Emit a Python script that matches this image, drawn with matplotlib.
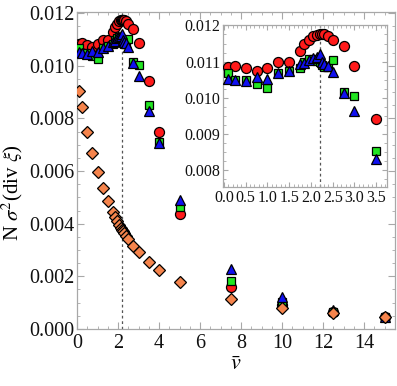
import matplotlib
matplotlib.use("Agg")
import matplotlib.pyplot as plt
from matplotlib.ticker import MultipleLocator, FormatStrFormatter

plt.rcParams['font.family'] = ['Liberation Serif', 'DejaVu Serif']
plt.rcParams['mathtext.fontset'] = 'stix'

# ---------------- data ----------------
x_vals = [0.1, 0.25, 0.5, 0.75, 1.0, 1.25, 1.5, 1.75, 1.85, 1.95, 2.05, 2.15,
          2.2, 2.25, 2.3, 2.4, 2.5, 2.75, 3.0, 3.5, 4.0, 5.0, 7.5, 10.0, 12.5, 15.0]

red_vals = [0.01084, 0.01088, 0.01081, 0.01073, 0.01082, 0.01100, 0.01098, 0.01128,
            0.01148, 0.01160, 0.01170, 0.01174, 0.01175, 0.01175, 0.01175, 0.01172,
            0.01159, 0.01142, 0.01088, 0.00942, 0.00749, 0.00437, 0.00158, 0.00091,
            0.00063, 0.00044]

green_vals = [0.01067, 0.01050, 0.01048, 0.01039, 0.01028, 0.01067, 0.01075, 0.01083,
              0.01098, 0.01106, 0.01108, 0.01101, 0.01098, 0.01090, 0.01085, 0.01084,
              0.01104, 0.01015, 0.01005, 0.00852, 0.00711, 0.00464, 0.00182, 0.00101,
              0.00063, 0.00044]

blue_vals = [0.01053, 0.01049, 0.01046, 0.01058, 0.01053, 0.01067, 0.01075, 0.01092,
             0.01095, 0.01105, 0.01110, 0.01112, 0.01120, 0.01100, 0.01092, 0.01088,
             0.01072, 0.01012, 0.00962, 0.00830, 0.00705, 0.00490, 0.00227, 0.00123,
             0.00072, 0.00045]

orange_vals = [0.00905, 0.00842, 0.00747, 0.00667, 0.00597, 0.00537, 0.00487, 0.00443,
               0.00426, 0.00410, 0.00396, 0.00383, 0.00377, 0.00371, 0.00365, 0.00352,
               0.00340, 0.00316, 0.00291, 0.00256, 0.00224, 0.00180, 0.00114, 0.00081,
               0.00060, 0.00045]

v_mark = 2.2

main_xticks = [0, 2, 4, 6, 8, 10, 12, 14]
main_yticks = [0.000, 0.002, 0.004, 0.006, 0.008, 0.010, 0.012]
inset_xticks = [0.0, 0.5, 1.0, 1.5, 2.0, 2.5, 3.0, 3.5]
inset_yticks = [0.008, 0.009, 0.010, 0.011, 0.012]

# ---------------- styles ----------------
RED = '#ff1a1a'
GREEN = '#22e622'
BLUE = '#1010f0'
ORANGE = '#f5844c'
FRAME = '#a8a8a8'

fig = plt.figure(figsize=(3.97, 3.86), dpi=100)
ax = fig.add_axes([0.194, 0.148, 0.801, 0.821])


def style_axes(a, fs, major_len, minor_len):
    for s in a.spines.values():
        s.set_color(FRAME)
        s.set_linewidth(0.9)
    a.tick_params(which='both', direction='in', top=True, right=True,
                  color=FRAME, labelcolor='#111111', labelsize=fs, pad=2)
    a.tick_params(which='major', length=major_len, width=0.8)
    a.tick_params(which='minor', length=minor_len, width=0.6)


def draw_series(a, ms):
    a.plot(x_vals, red_vals, 'o', ms=ms, mfc=RED, mec='black', mew=0.9, zorder=3)
    a.plot(x_vals, green_vals, 's', ms=ms * 0.85, mfc=GREEN, mec='black', mew=0.9, zorder=4)
    a.plot(x_vals, blue_vals, '^', ms=ms * 1.0, mfc=BLUE, mec='black', mew=0.9, zorder=5)


draw_series(ax, 7.2)
ax.plot(x_vals, orange_vals, 'D', ms=5.8, mfc=ORANGE, mec='black', mew=0.9, zorder=6)
ax.axvline(v_mark, color='#555555', lw=0.9, ls=(0, (2.2, 2.2)), zorder=1)

ax.set_xlim(0, 15.5)
ax.set_ylim(0, 0.01205)
ax.set_xticks(main_xticks)
ax.set_yticks(main_yticks)
ax.yaxis.set_major_formatter(FormatStrFormatter('%.3f'))
ax.xaxis.set_minor_locator(MultipleLocator(0.5))
ax.yaxis.set_minor_locator(MultipleLocator(0.0005))
style_axes(ax, 14.5, 5, 2.5)
ax.tick_params(axis='x', pad=4)

ax.set_xlabel(r'$\bar{v}$', fontsize=16, labelpad=2)
ax.set_ylabel(r'N $\sigma^2$(div $\xi$)', fontsize=15)
ax.yaxis.set_label_coords(-0.165, 0.43)

# ---------------- inset ----------------
axi = fig.add_axes([0.562, 0.516, 0.413, 0.419])
draw_series(axi, 7.2)
axi.axvline(v_mark, color='#555555', lw=0.9, ls=(0, (2.2, 2.2)), zorder=1)
axi.set_xlim(-0.02, 3.75)
axi.set_ylim(0.00753, 0.01201)
axi.set_xticks(inset_xticks)
axi.set_yticks(inset_yticks)
axi.xaxis.set_major_formatter(FormatStrFormatter('%.1f'))
axi.yaxis.set_major_formatter(FormatStrFormatter('%.3f'))
axi.xaxis.set_minor_locator(MultipleLocator(0.1))
axi.yaxis.set_minor_locator(MultipleLocator(0.00025))
style_axes(axi, 11.5, 3.5, 2)

fig.savefig('out.png', dpi=100)
